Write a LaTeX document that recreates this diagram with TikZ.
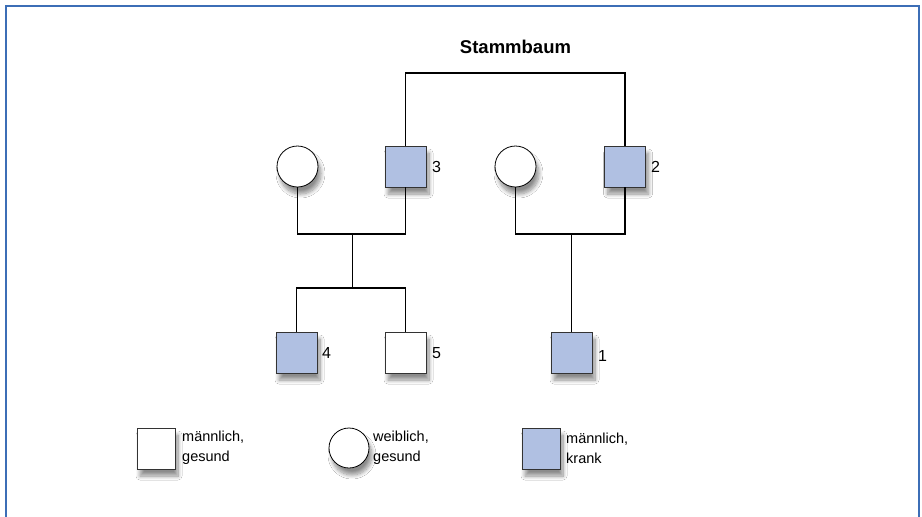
\documentclass[tikz,border=0pt]{standalone}
\usepackage{fontspec}
\setmainfont{Liberation Sans}
\usetikzlibrary{shadows.blur}
\definecolor{framecol}{RGB}{60,110,182}
\definecolor{sick}{RGB}{176,192,226}
\begin{document}
\begin{tikzpicture}[x=1pt,y=-1pt,
  shapebase/.style={draw=black!80, line width=0.8pt, inner sep=0pt,
    blur shadow={shadow xshift=3pt, shadow yshift=-7pt, shadow blur radius=4pt, shadow blur steps=10, shadow opacity=45}},
  male/.style={shapebase, rectangle, fill=white, minimum width=41pt, minimum height=41pt},
  sickmale/.style={male, fill=sick},
  female/.style={shapebase, circle, fill=white, draw=black, minimum size=41pt},
  link/.style={line width=1.8pt},
  num/.style={font=\fontsize{16}{18}\selectfont, anchor=west, inner sep=0pt},
  legtext/.style={font=\fontsize{14.5}{20}\selectfont, align=left, anchor=west, inner sep=0pt},
  titlestyle/.style={font=\bfseries\fontsize{18.5}{20}\selectfont, inner sep=0pt}]
\useasboundingbox (0,0) rectangle (922,517);
\fill[white] (0,0) rectangle (922,517);
\draw[framecol, line width=2.2pt] (6,6) rectangle (919,530);

\node[titlestyle] (title) at (515.5,47) {Stammbaum};

% generation 1
\node[female]   (f3) at (297.5,166.5) {};
\node[sickmale] (s3) at (405.5,166.5) {};
\node[female]   (f2) at (515.5,166.5) {};
\node[sickmale] (s2) at (625,166.5) {};
% generation 2
\node[sickmale] (s4) at (296.5,352.5) {};
\node[male]     (s5) at (405.5,352.5) {};
\node[sickmale] (s1) at (571.5,352.5) {};

\node[num] (n3) at (432,167) {3};
\node[num] (n2) at (651,167) {2};
\node[num] (n4) at (322,353) {4};
\node[num] (n5) at (432,353) {5};
\node[num] (n1) at (598,356) {1};

\coordinate (m1) at (352.5,234);
\coordinate (k1) at (352.5,288);
\coordinate (m2) at (571.5,234);

\draw[link] (s3.north) -- ++(0,-73) -| (s2.north);
\draw[link] (f3.south) |- (m1) -| (s3.south);
\draw[link] (m1) -- (k1);
\draw[link] (s4.north) |- (k1) -| (s5.north);
\draw[link] (f2.south) |- (m2) -| (s2.south);
\draw[link] (m2) -- (s1.north);

% legend
\node[male, minimum width=38pt] (lm) at (156,448.5) {};
\node[female, minimum size=40pt] (lf) at (349,448) {};
\node[sickmale, minimum width=38pt] (ls) at (541,448.5) {};
\node[legtext] (tm) at (182,448) {männlich,\\gesund};
\node[legtext] (tf) at (373,448) {weiblich,\\gesund};
\node[legtext] (ts) at (566,448) {männlich,\\krank};
\end{tikzpicture}
\end{document}
